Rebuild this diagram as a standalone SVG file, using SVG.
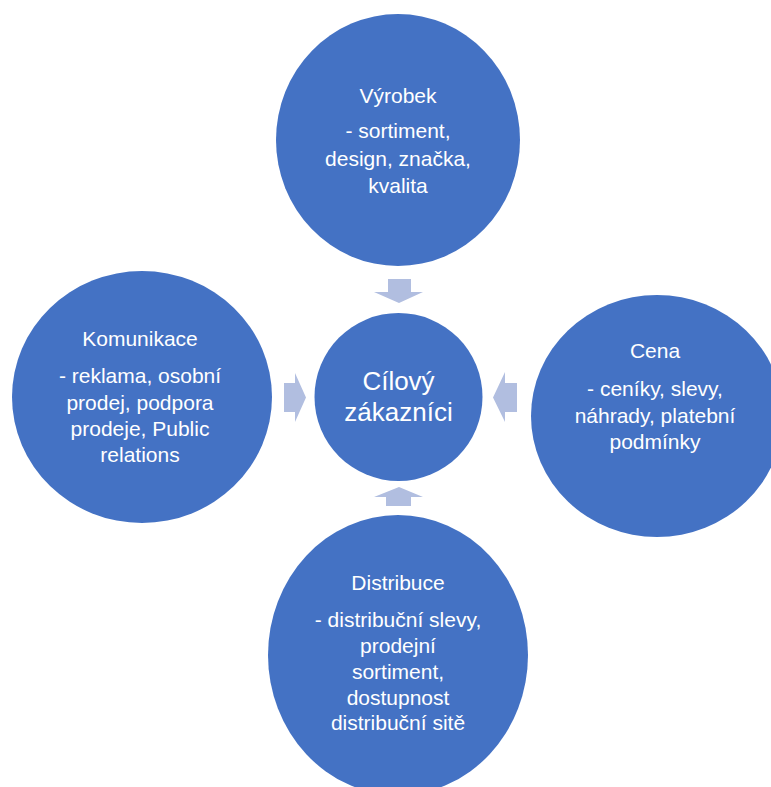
<svg xmlns="http://www.w3.org/2000/svg" width="771" height="787" viewBox="0 0 771 787">
<style>
.n{fill:#4472C4}
.a{fill:#B1BEE0}
text{font-family:"Liberation Sans",Arial,sans-serif;fill:#FFFFFF;text-anchor:middle;font-size:21px}
.c{font-size:26px}
</style>
<rect width="771" height="787" fill="#FFFFFF"/>
<g id="connectors">
<path class="a" d="M388,279 H411 V292 H423 L399,303 L374,292 H388 Z"/>
<path class="a" d="M386,506 H411 V497 H423 L399,487 L374,497 H386 Z"/>
<path class="a" d="M284,383 H295 V373 L306,397.5 L295,422 V412 H284 Z"/>
<path class="a" d="M517,383 H505 V372 L493,397.5 L505,422 V412 H517 Z"/>
</g>
<g id="center">
<circle class="n" cx="398.5" cy="397" r="84"/>
<text class="c" x="398.5" y="390">Cílový</text>
<text class="c" x="398.5" y="421">zákazníci</text>
</g>
<g id="vyrobek">
<ellipse class="n" cx="398" cy="140" rx="122" ry="126"/>
<text x="398" y="103">Výrobek</text>
<text x="398" y="138">- sortiment,</text>
<text x="398" y="166">design, značka,</text>
<text x="398" y="193">kvalita</text>
</g>
<g id="komunikace">
<ellipse class="n" cx="142" cy="397" rx="130" ry="126"/>
<text x="140" y="346">Komunikace</text>
<text x="140" y="383">- reklama, osobní</text>
<text x="140" y="410">prodej, podpora</text>
<text x="140" y="436">prodeje, Public</text>
<text x="140" y="462">relations</text>
</g>
<g id="cena">
<ellipse class="n" cx="657" cy="416" rx="126" ry="121"/>
<text x="655" y="358">Cena</text>
<text x="655" y="396">- ceníky, slevy,</text>
<text x="655" y="423">náhrady, platební</text>
<text x="655" y="449">podmínky</text>
</g>
<g id="distribuce">
<ellipse class="n" cx="398" cy="655" rx="130" ry="140"/>
<text x="398" y="590">Distribuce</text>
<text x="398" y="627">- distribuční slevy,</text>
<text x="398" y="653">prodejní</text>
<text x="398" y="679">sortiment,</text>
<text x="398" y="705">dostupnost</text>
<text x="398" y="730">distribuční sitě</text>
</g>
</svg>
